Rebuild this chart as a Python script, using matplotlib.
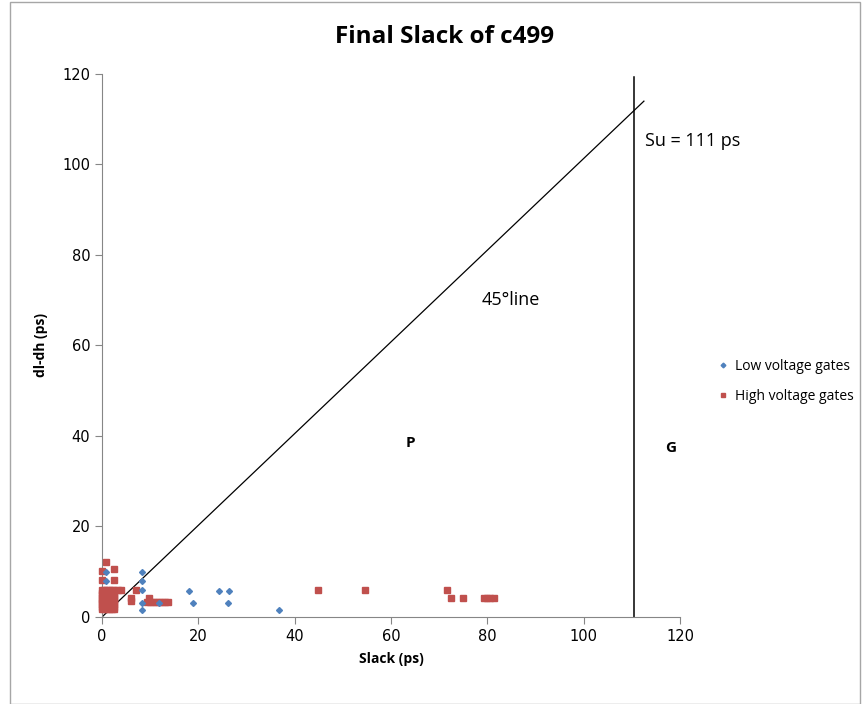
import matplotlib
matplotlib.use('Agg')
import matplotlib.pyplot as plt
import matplotlib.patches as patches

# low voltage gates (blue diamonds)
low_x = [0.8, 0.8, 8.4, 8.4, 8.4, 8.4, 8.4, 11.9, 18.1, 18.9, 24.2, 26.4, 26.2, 36.7]
low_y = [9.9, 8.0, 9.9, 8.0, 5.9, 3.2, 1.6, 3.1, 5.8, 3.2, 5.8, 5.8, 3.2, 1.5]

# high voltage gates (red squares)
high_x = [0.0, 0.8, 2.5, 0.0, 2.4,
          0.0, 0.5, 1.0, 1.5, 2.0, 2.5,
          0.0, 0.5, 1.0, 1.5, 2.0, 2.5,
          0.0, 0.5, 1.0, 1.5, 2.0, 2.5,
          0.0, 0.5, 1.0, 1.5, 2.0, 2.5,
          0.0, 0.5, 1.0, 1.5, 2.0, 2.5,
          0.0, 0.5, 1.0, 1.5, 2.0, 2.5,
          0.0, 0.5, 1.0, 1.5, 2.0, 2.5,
          0.0, 0.5, 1.0, 1.5, 2.0, 2.5,
          0.0, 0.5, 1.0, 1.5, 2.0, 2.5,
          3.3, 4.0, 7.0, 6.0, 6.0,
          9.4, 10.0, 10.6, 11.2, 11.8, 12.4, 13.0, 13.8, 9.8,
          44.8, 54.5, 71.7, 72.5, 75.0, 79.2, 79.9, 80.6, 81.4]
high_y = [10.2, 12.2, 10.6, 8.2, 8.2,
          1.8, 1.8, 1.8, 1.8, 1.8, 1.8,
          2.3, 2.3, 2.3, 2.3, 2.3, 2.3,
          2.8, 2.8, 2.8, 2.8, 2.8, 2.8,
          3.3, 3.3, 3.3, 3.3, 3.3, 3.3,
          3.8, 3.8, 3.8, 3.8, 3.8, 3.8,
          4.3, 4.3, 4.3, 4.3, 4.3, 4.3,
          4.8, 4.8, 4.8, 4.8, 4.8, 4.8,
          5.3, 5.3, 5.3, 5.3, 5.3, 5.3,
          5.9, 5.9, 5.9, 5.9, 5.9, 5.9,
          6.0, 6.0, 6.0, 3.6, 4.2,
          3.4, 3.4, 3.4, 3.4, 3.4, 3.4, 3.4, 3.4, 4.1,
          6.0, 6.0, 6.0, 4.3, 4.3, 4.3, 4.3, 4.3, 4.3]

line45_x = [0, 112.5]
line45_y = [0, 114]
su = 110.4

fig = plt.figure(figsize=(8.63, 7.04), dpi=100)
fig.patches.append(patches.Rectangle((0.012, 0.0), 0.985, 0.997, transform=fig.transFigure,
                                     fill=False, ec='#a6a6a6', lw=1))
ax = fig.add_axes([0.1182, 0.1236, 0.6698, 0.7713])

ax.plot(line45_x, line45_y, color='black', lw=0.9)
ax.plot([su, su], [0, 119.4], color='black', lw=1.1)

ax.plot(high_x, high_y, 's', color='#c0504d', ms=4, mec='#c0504d', ls='none',
        label='High voltage gates', zorder=3, clip_on=False)
ax.plot(low_x, low_y, 'D', color='#4f81bd', ms=3, mec='#4f81bd', ls='none',
        label='Low voltage gates', zorder=4, clip_on=False)

ax.set_xlim(0, 120)
ax.set_ylim(0, 120)
ax.set_xticks(range(0, 121, 20))
ax.set_yticks(range(0, 121, 20))
for s in ['top', 'right']:
    ax.spines[s].set_visible(False)
for s in ['left', 'bottom']:
    ax.spines[s].set_color('#868686')
ax.tick_params(direction='out', color='#868686', length=5, labelsize=10.5)
for lab in ax.get_xticklabels() + ax.get_yticklabels():
    lab.set_family('DejaVu Sans')

ax.set_xlabel('Slack (ps)', fontsize=10, fontweight='bold', family='Open Sans', labelpad=6)
ax.set_ylabel('dl-dh (ps)', fontsize=10, fontweight='bold', family='Open Sans', labelpad=10)
fig.suptitle('Final Slack of c499', x=0.515, y=0.965, fontsize=17.5, fontweight='bold', family='Open Sans')

ax.text(112.7, 105.2, 'Su = 111 ps', fontsize=13, va='center', family='Open Sans')
ax.text(78.9, 70, '45°line', fontsize=13, va='center', family='Open Sans')
ax.text(64, 38.5, 'P', fontsize=11, fontweight='bold', ha='center', va='center', family='Open Sans')
ax.text(118, 37.4, 'G', fontsize=11, fontweight='bold', ha='center', va='center', family='Open Sans', clip_on=False)

h, l = ax.get_legend_handles_labels()
leg = fig.legend(h[::-1], l[::-1], loc='center left', bbox_to_anchor=(0.818, 0.458),
                 frameon=False, handlelength=0.6, handletextpad=0.6, markerscale=0.8,
                 labelspacing=1.1, prop={'family': 'Open Sans', 'size': 10})

plt.savefig('out.png', dpi=100)
